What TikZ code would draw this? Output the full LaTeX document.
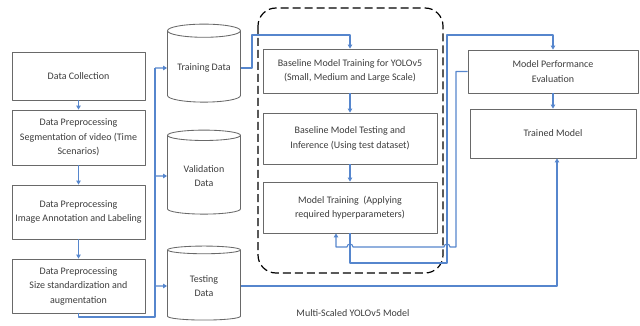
\documentclass[tikz,border=0pt]{standalone}
\usepackage{fontspec}
\setmainfont{Carlito}
\usetikzlibrary{shapes.geometric,arrows.meta}
\definecolor{flowblue}{RGB}{86,134,205}
\definecolor{boxgray}{RGB}{105,105,105}
\definecolor{txtgray}{RGB}{60,60,60}
\tikzset{
	box/.style={draw=boxgray,line width=0.85pt,align=center,text=txtgray,inner sep=2pt},
	db/.style={cylinder,shape border rotate=90,aspect=0.22,draw=boxgray,line width=0.85pt,align=center,text=txtgray,minimum width=73pt},
	flow/.style={draw=flowblue,line width=1.1pt},
}
\begin{document}
\begin{tikzpicture}[x=1pt,y=-1pt,>={Triangle[length=4pt,width=4.5pt]},line join=round,font=\fontsize{10}{14.5}\selectfont]
	\useasboundingbox (0,0) rectangle (640,326);
	% data preparation
	\node[box,minimum width=133pt,minimum height=48pt] (coll) at (78.5,76) {Data Collection};
	\node[box,minimum width=133pt,minimum height=55pt] (seg) at (78.5,137.5) {Data Preprocessing\\Segmentation of video (Time\\Scenarios)};
	\node[box,minimum width=133pt,minimum height=54pt] (annot) at (78.5,212) {Data Preprocessing\\Image Annotation and Labeling};
	\node[box,minimum width=133pt,minimum height=54pt] (size) at (78.5,286) {Data Preprocessing\\Size standardization and\\augmentation};
	% data sets
	\node[db,minimum height=78pt] (train) at (204,68) {Training Data};
	\node[db,minimum height=84pt] (valid) at (204,176) {Validation\\Data};
	\node[db,minimum height=74pt] (test) at (204,286) {Testing\\Data};
	% model
	\draw[line width=1.2pt,dash pattern=on 8pt off 4pt,rounded corners=18pt] (258,8) rectangle (443,273);
	\node[box,minimum width=174pt,minimum height=44pt] (base) at (350,71) {Baseline Model Training for YOLOv5\\(Small, Medium and Large Scale)};
	\node[box,minimum width=174pt,minimum height=51pt] (btest) at (350,138.5) {Baseline Model Testing and\\Inference (Using test dataset)};
	\node[box,minimum width=174pt,minimum height=51pt] (mtrain) at (350,207.5) {Model Training~~(Applying\\required hyperparameters)};
	\node[text=txtgray] (cap) at (353,313) {Multi-Scaled YOLOv5 Model};
	% results
	\node[box,minimum width=170pt,minimum height=43pt] (eval) at (553,71.5) {Model Performance\\Evaluation};
	\node[box,minimum width=166pt,minimum height=49pt] (trained) at (553,133.5) {Trained Model};
	% connectors
	\foreach \a/\b in {coll/seg,seg/annot,annot/size,base/btest,btest/mtrain,eval/trained} \draw[flow,->] (\a) -- (\b);
	\draw[flow] (size.south) |- (155,317) -- (155,68);
	\foreach \c/\y in {train/68,valid/176,test/286} \draw[flow,->] (155,\y) -- (\c.west);
	\draw[flow,->] (train.east) -| (252,35) -| (base.north);
	\draw[flow,->] (mtrain.south) |- (447,263) -- (447,35) -| (eval.north);
	\draw[flow,->] (eval.west) -| (456,247) -- (450,247) arc[start angle=0,end angle=-180,radius=3] -- (353,247) arc[start angle=0,end angle=-180,radius=3] -- (336,247) -- ([xshift=-14pt]mtrain.south);
	\draw[flow,->] (test.east) -| ([xshift=4pt]trained.south);
\end{tikzpicture}
\end{document}
